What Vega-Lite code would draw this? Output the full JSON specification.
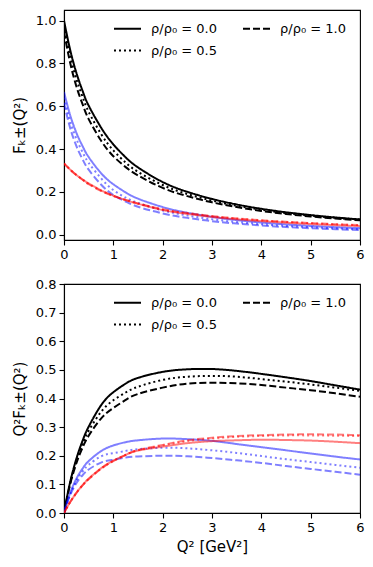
{
  "$schema": "https://vega.github.io/schema/vega-lite/v6.json",
  "autosize": {"type": "pad"},
  "padding": {"left": 11, "top": 9, "right": 5, "bottom": 5},
  "bounds": "flush",
  "spacing": 44,
  "config": {
    "font": "DejaVu Sans",
    "view": {"stroke": "black", "strokeWidth": 1.1},
    "axis": {"labelFont": "DejaVu Sans", "labelFontSize": 13, "labelColor": "black", "tickColor": "black", "tickSize": 5, "tickWidth": 1.1, "domainColor": "black", "domainWidth": 1.1, "grid": false, "titleFont": "DejaVu Sans", "titleFontSize": 15, "titleFontWeight": "normal", "titleColor": "black", "labelPadding": 3, "labelFlush": false, "labelOverlap": false},
    "axisY": {"titlePadding": 8},
    "axisX": {"titlePadding": 5},
    "legend": {"orient": "none", "legendX": 49, "legendY": 4, "title": null, "columns": 2, "direction": "horizontal", "symbolType": "stroke", "symbolSize": 729, "symbolStrokeWidth": 2, "symbolStrokeColor": "black", "labelFontSize": 13, "labelFont": "DejaVu Sans", "labelColor": "black", "labelOffset": 9, "columnPadding": 22, "rowPadding": -5}
  },
  "resolve": {"scale": {"strokeDash": "independent"}, "legend": {"strokeDash": "independent"}},
  "data": {"values": [
    {"q":0,"c":"k","r":"0.0","f":1.0,"g":0},
    {"q":0.1,"c":"k","r":"0.0","f":0.888,"g":0.0888},
    {"q":0.2,"c":"k","r":"0.0","f":0.796,"g":0.159},
    {"q":0.3,"c":"k","r":"0.0","f":0.721,"g":0.216},
    {"q":0.4,"c":"k","r":"0.0","f":0.657,"g":0.263},
    {"q":0.5,"c":"k","r":"0.0","f":0.603,"g":0.3015},
    {"q":0.75,"c":"k","r":"0.0","f":0.501,"g":0.376},
    {"q":1,"c":"k","r":"0.0","f":0.422,"g":0.422},
    {"q":1.25,"c":"k","r":"0.0","f":0.3616,"g":0.452},
    {"q":1.5,"c":"k","r":"0.0","f":0.3147,"g":0.472},
    {"q":2,"c":"k","r":"0.0","f":0.2465,"g":0.493},
    {"q":2.5,"c":"k","r":"0.0","f":0.2008,"g":0.502},
    {"q":3,"c":"k","r":"0.0","f":0.1677,"g":0.503},
    {"q":3.5,"c":"k","r":"0.0","f":0.1418,"g":0.4965},
    {"q":4,"c":"k","r":"0.0","f":0.1215,"g":0.486},
    {"q":4.5,"c":"k","r":"0.0","f":0.1054,"g":0.474},
    {"q":5,"c":"k","r":"0.0","f":0.0922,"g":0.461},
    {"q":5.5,"c":"k","r":"0.0","f":0.0811,"g":0.446},
    {"q":6,"c":"k","r":"0.0","f":0.0719,"g":0.431},

    {"q":0,"c":"k","r":"0.5","f":0.973,"g":0},
    {"q":0.1,"c":"k","r":"0.5","f":0.859,"g":0.0859},
    {"q":0.2,"c":"k","r":"0.5","f":0.767,"g":0.1534},
    {"q":0.3,"c":"k","r":"0.5","f":0.6925,"g":0.2078},
    {"q":0.4,"c":"k","r":"0.5","f":0.629,"g":0.2516},
    {"q":0.5,"c":"k","r":"0.5","f":0.574,"g":0.287},
    {"q":0.75,"c":"k","r":"0.5","f":0.471,"g":0.353},
    {"q":1,"c":"k","r":"0.5","f":0.394,"g":0.394},
    {"q":1.25,"c":"k","r":"0.5","f":0.3368,"g":0.421},
    {"q":1.5,"c":"k","r":"0.5","f":0.294,"g":0.441},
    {"q":2,"c":"k","r":"0.5","f":0.2325,"g":0.465},
    {"q":2.5,"c":"k","r":"0.5","f":0.1904,"g":0.476},
    {"q":3,"c":"k","r":"0.5","f":0.1597,"g":0.479},
    {"q":3.5,"c":"k","r":"0.5","f":0.136,"g":0.476},
    {"q":4,"c":"k","r":"0.5","f":0.1171,"g":0.468},
    {"q":4.5,"c":"k","r":"0.5","f":0.102,"g":0.459},
    {"q":5,"c":"k","r":"0.5","f":0.0898,"g":0.449},
    {"q":5.5,"c":"k","r":"0.5","f":0.0796,"g":0.438},
    {"q":6,"c":"k","r":"0.5","f":0.0711,"g":0.427},

    {"q":0,"c":"k","r":"1.0","f":0.948,"g":0},
    {"q":0.1,"c":"k","r":"1.0","f":0.829,"g":0.0829},
    {"q":0.2,"c":"k","r":"1.0","f":0.733,"g":0.1466},
    {"q":0.3,"c":"k","r":"1.0","f":0.658,"g":0.1974},
    {"q":0.4,"c":"k","r":"1.0","f":0.5946,"g":0.2378},
    {"q":0.5,"c":"k","r":"1.0","f":0.54,"g":0.27},
    {"q":0.75,"c":"k","r":"1.0","f":0.44,"g":0.33},
    {"q":1,"c":"k","r":"1.0","f":0.367,"g":0.367},
    {"q":1.25,"c":"k","r":"1.0","f":0.316,"g":0.395},
    {"q":1.5,"c":"k","r":"1.0","f":0.2773,"g":0.416},
    {"q":2,"c":"k","r":"1.0","f":0.219,"g":0.438},
    {"q":2.5,"c":"k","r":"1.0","f":0.1808,"g":0.452},
    {"q":3,"c":"k","r":"1.0","f":0.1517,"g":0.455},
    {"q":3.5,"c":"k","r":"1.0","f":0.1295,"g":0.453},
    {"q":4,"c":"k","r":"1.0","f":0.1118,"g":0.447},
    {"q":4.5,"c":"k","r":"1.0","f":0.0973,"g":0.438},
    {"q":5,"c":"k","r":"1.0","f":0.0858,"g":0.429},
    {"q":5.5,"c":"k","r":"1.0","f":0.076,"g":0.418},
    {"q":6,"c":"k","r":"1.0","f":0.0676,"g":0.406},

    {"q":0,"c":"b","r":"0.0","f":0.667,"g":0},
    {"q":0.1,"c":"b","r":"0.0","f":0.578,"g":0.0578},
    {"q":0.2,"c":"b","r":"0.0","f":0.507,"g":0.1014},
    {"q":0.3,"c":"b","r":"0.0","f":0.45,"g":0.135},
    {"q":0.4,"c":"b","r":"0.0","f":0.403,"g":0.161},
    {"q":0.5,"c":"b","r":"0.0","f":0.363,"g":0.1815},
    {"q":0.75,"c":"b","r":"0.0","f":0.288,"g":0.216},
    {"q":1,"c":"b","r":"0.0","f":0.236,"g":0.236},
    {"q":1.25,"c":"b","r":"0.0","f":0.198,"g":0.2475},
    {"q":1.5,"c":"b","r":"0.0","f":0.169,"g":0.254},
    {"q":2,"c":"b","r":"0.0","f":0.13,"g":0.26},
    {"q":2.5,"c":"b","r":"0.0","f":0.1032,"g":0.258},
    {"q":3,"c":"b","r":"0.0","f":0.084,"g":0.252},
    {"q":3.5,"c":"b","r":"0.0","f":0.0689,"g":0.241},
    {"q":4,"c":"b","r":"0.0","f":0.0575,"g":0.23},
    {"q":4.5,"c":"b","r":"0.0","f":0.0487,"g":0.219},
    {"q":5,"c":"b","r":"0.0","f":0.0416,"g":0.208},
    {"q":5.5,"c":"b","r":"0.0","f":0.0358,"g":0.197},
    {"q":6,"c":"b","r":"0.0","f":0.0312,"g":0.187},

    {"q":0,"c":"b","r":"0.5","f":0.64,"g":0},
    {"q":0.1,"c":"b","r":"0.5","f":0.549,"g":0.0549},
    {"q":0.2,"c":"b","r":"0.5","f":0.478,"g":0.0956},
    {"q":0.3,"c":"b","r":"0.5","f":0.4215,"g":0.1265},
    {"q":0.4,"c":"b","r":"0.5","f":0.375,"g":0.15},
    {"q":0.5,"c":"b","r":"0.5","f":0.336,"g":0.168},
    {"q":0.75,"c":"b","r":"0.5","f":0.264,"g":0.198},
    {"q":1,"c":"b","r":"0.5","f":0.209,"g":0.209},
    {"q":1.25,"c":"b","r":"0.5","f":0.1736,"g":0.217},
    {"q":1.5,"c":"b","r":"0.5","f":0.1493,"g":0.223},
    {"q":2,"c":"b","r":"0.5","f":0.114,"g":0.228},
    {"q":2.5,"c":"b","r":"0.5","f":0.0904,"g":0.226},
    {"q":3,"c":"b","r":"0.5","f":0.073,"g":0.219},
    {"q":3.5,"c":"b","r":"0.5","f":0.06,"g":0.21},
    {"q":4,"c":"b","r":"0.5","f":0.0498,"g":0.199},
    {"q":4.5,"c":"b","r":"0.5","f":0.0418,"g":0.188},
    {"q":5,"c":"b","r":"0.5","f":0.0356,"g":0.178},
    {"q":5.5,"c":"b","r":"0.5","f":0.0305,"g":0.168},
    {"q":6,"c":"b","r":"0.5","f":0.0263,"g":0.158},

    {"q":0,"c":"b","r":"1.0","f":0.615,"g":0},
    {"q":0.1,"c":"b","r":"1.0","f":0.519,"g":0.0519},
    {"q":0.2,"c":"b","r":"1.0","f":0.445,"g":0.089},
    {"q":0.3,"c":"b","r":"1.0","f":0.388,"g":0.1164},
    {"q":0.4,"c":"b","r":"1.0","f":0.3416,"g":0.1366},
    {"q":0.5,"c":"b","r":"1.0","f":0.304,"g":0.152},
    {"q":0.75,"c":"b","r":"1.0","f":0.235,"g":0.176},
    {"q":1,"c":"b","r":"1.0","f":0.186,"g":0.186},
    {"q":1.25,"c":"b","r":"1.0","f":0.1556,"g":0.1935},
    {"q":1.5,"c":"b","r":"1.0","f":0.131,"g":0.1975},
    {"q":2,"c":"b","r":"1.0","f":0.1,"g":0.2},
    {"q":2.5,"c":"b","r":"1.0","f":0.0792,"g":0.198},
    {"q":3,"c":"b","r":"1.0","f":0.064,"g":0.192},
    {"q":3.5,"c":"b","r":"1.0","f":0.0526,"g":0.184},
    {"q":4,"c":"b","r":"1.0","f":0.0438,"g":0.175},
    {"q":4.5,"c":"b","r":"1.0","f":0.0364,"g":0.164},
    {"q":5,"c":"b","r":"1.0","f":0.0308,"g":0.154},
    {"q":5.5,"c":"b","r":"1.0","f":0.0262,"g":0.144},
    {"q":6,"c":"b","r":"1.0","f":0.0223,"g":0.134},

    {"q":0,"c":"r","r":"0.0","f":0.333,"g":0},
    {"q":0.1,"c":"r","r":"0.0","f":0.31,"g":0.031},
    {"q":0.2,"c":"r","r":"0.0","f":0.289,"g":0.0578},
    {"q":0.3,"c":"r","r":"0.0","f":0.271,"g":0.0813},
    {"q":0.4,"c":"r","r":"0.0","f":0.2545,"g":0.1018},
    {"q":0.5,"c":"r","r":"0.0","f":0.24,"g":0.12},
    {"q":0.75,"c":"r","r":"0.0","f":0.208,"g":0.156},
    {"q":1,"c":"r","r":"0.0","f":0.183,"g":0.183},
    {"q":1.25,"c":"r","r":"0.0","f":0.1624,"g":0.203},
    {"q":1.5,"c":"r","r":"0.0","f":0.1453,"g":0.218},
    {"q":2,"c":"r","r":"0.0","f":0.116,"g":0.232},
    {"q":2.5,"c":"r","r":"0.0","f":0.0976,"g":0.244},
    {"q":3,"c":"r","r":"0.0","f":0.0837,"g":0.251},
    {"q":3.5,"c":"r","r":"0.0","f":0.0726,"g":0.254},
    {"q":4,"c":"r","r":"0.0","f":0.064,"g":0.256},
    {"q":4.5,"c":"r","r":"0.0","f":0.0567,"g":0.255},
    {"q":5,"c":"r","r":"0.0","f":0.0506,"g":0.253},
    {"q":5.5,"c":"r","r":"0.0","f":0.0453,"g":0.249},
    {"q":6,"c":"r","r":"0.0","f":0.0407,"g":0.244},

    {"q":0,"c":"r","r":"0.5","f":0.333,"g":0},
    {"q":0.1,"c":"r","r":"0.5","f":0.31,"g":0.031},
    {"q":0.2,"c":"r","r":"0.5","f":0.289,"g":0.0578},
    {"q":0.3,"c":"r","r":"0.5","f":0.271,"g":0.0813},
    {"q":0.4,"c":"r","r":"0.5","f":0.254,"g":0.1016},
    {"q":0.5,"c":"r","r":"0.5","f":0.238,"g":0.119},
    {"q":0.75,"c":"r","r":"0.5","f":0.207,"g":0.155},
    {"q":1,"c":"r","r":"0.5","f":0.182,"g":0.182},
    {"q":1.25,"c":"r","r":"0.5","f":0.1624,"g":0.203},
    {"q":1.5,"c":"r","r":"0.5","f":0.146,"g":0.219},
    {"q":2,"c":"r","r":"0.5","f":0.118,"g":0.236},
    {"q":2.5,"c":"r","r":"0.5","f":0.1004,"g":0.251},
    {"q":3,"c":"r","r":"0.5","f":0.0867,"g":0.26},
    {"q":3.5,"c":"r","r":"0.5","f":0.076,"g":0.266},
    {"q":4,"c":"r","r":"0.5","f":0.0673,"g":0.269},
    {"q":4.5,"c":"r","r":"0.5","f":0.0602,"g":0.271},
    {"q":5,"c":"r","r":"0.5","f":0.0542,"g":0.271},
    {"q":5.5,"c":"r","r":"0.5","f":0.0491,"g":0.27},
    {"q":6,"c":"r","r":"0.5","f":0.0448,"g":0.269},

    {"q":0,"c":"r","r":"1.0","f":0.333,"g":0},
    {"q":0.1,"c":"r","r":"1.0","f":0.31,"g":0.031},
    {"q":0.2,"c":"r","r":"1.0","f":0.288,"g":0.0576},
    {"q":0.3,"c":"r","r":"1.0","f":0.27,"g":0.081},
    {"q":0.4,"c":"r","r":"1.0","f":0.253,"g":0.1012},
    {"q":0.5,"c":"r","r":"1.0","f":0.236,"g":0.118},
    {"q":0.75,"c":"r","r":"1.0","f":0.205,"g":0.154},
    {"q":1,"c":"r","r":"1.0","f":0.181,"g":0.181},
    {"q":1.25,"c":"r","r":"1.0","f":0.1624,"g":0.203},
    {"q":1.5,"c":"r","r":"1.0","f":0.1467,"g":0.22},
    {"q":2,"c":"r","r":"1.0","f":0.119,"g":0.238},
    {"q":2.5,"c":"r","r":"1.0","f":0.1016,"g":0.254},
    {"q":3,"c":"r","r":"1.0","f":0.0877,"g":0.263},
    {"q":3.5,"c":"r","r":"1.0","f":0.0769,"g":0.269},
    {"q":4,"c":"r","r":"1.0","f":0.068,"g":0.272},
    {"q":4.5,"c":"r","r":"1.0","f":0.0609,"g":0.274},
    {"q":5,"c":"r","r":"1.0","f":0.055,"g":0.275},
    {"q":5.5,"c":"r","r":"1.0","f":0.0498,"g":0.274},
    {"q":6,"c":"r","r":"1.0","f":0.0453,"g":0.272}
  ]},
  "vconcat": [
    {
      "width": 296,
      "height": 230,
      "mark": {"type": "line", "strokeWidth": 2, "interpolate": "natural", "clip": true},
      "encoding": {
        "x": {"field": "q", "type": "quantitative", "scale": {"domain": [0, 6], "nice": false}, "axis": {"title": null, "values": [0, 1, 2, 3, 4, 5, 6]}},
        "y": {"field": "f", "type": "quantitative", "scale": {"domain": [-0.024, 1.049], "nice": false, "zero": false}, "axis": {"title": "Fₖ±(Q²)", "values": [0, 0.2, 0.4, 0.6, 0.8, 1.0], "format": ".1f"}},
        "color": {"field": "c", "type": "nominal", "scale": {"domain": ["k", "b", "r"], "range": ["#000000", "#0000ff", "#ff0000"]}, "legend": null},
        "strokeOpacity": {"condition": {"test": "datum.c === 'k'", "value": 1}, "value": 0.5},
        "strokeDash": {"field": "r", "type": "nominal", "scale": {"domain": ["0.0", "1.0", "0.5"], "range": [[1, 0], [7, 3], [2, 3]]}, "legend": {"labelExpr": "'ρ/ρ₀ = ' + datum.label"}}
      }
    },
    {
      "width": 296,
      "height": 229,
      "mark": {"type": "line", "strokeWidth": 2, "interpolate": "natural", "clip": true},
      "encoding": {
        "x": {"field": "q", "type": "quantitative", "scale": {"domain": [0, 6], "nice": false}, "axis": {"title": "Q² [GeV²]", "values": [0, 1, 2, 3, 4, 5, 6]}},
        "y": {"field": "g", "type": "quantitative", "scale": {"domain": [0, 0.8], "nice": false}, "axis": {"title": "Q²Fₖ±(Q²)", "values": [0, 0.1, 0.2, 0.3, 0.4, 0.5, 0.6, 0.7, 0.8], "format": ".1f"}},
        "color": {"field": "c", "type": "nominal", "scale": {"domain": ["k", "b", "r"], "range": ["#000000", "#0000ff", "#ff0000"]}, "legend": null},
        "strokeOpacity": {"condition": {"test": "datum.c === 'k'", "value": 1}, "value": 0.5},
        "strokeDash": {"field": "r", "type": "nominal", "scale": {"domain": ["0.0", "1.0", "0.5"], "range": [[1, 0], [7, 3], [2, 3]]}, "legend": {"labelExpr": "'ρ/ρ₀ = ' + datum.label"}}
      }
    }
  ]
}
